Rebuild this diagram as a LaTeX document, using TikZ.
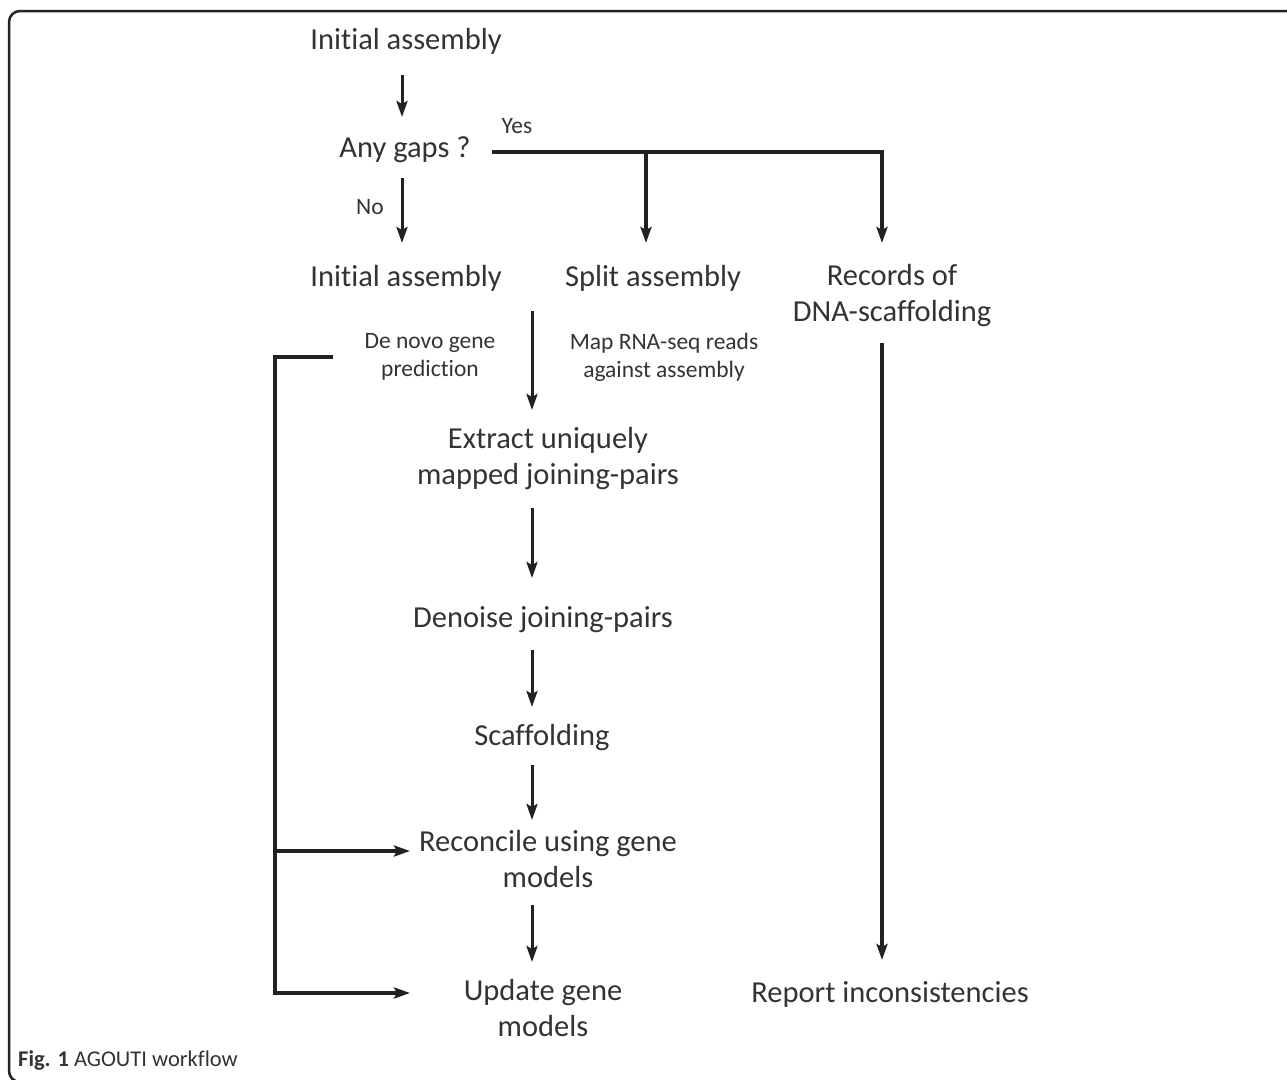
\documentclass[tikz,border=0pt]{standalone}
\usepackage{fontspec}
\setmainfont{Carlito}[Ligatures=NoCommon]
\usetikzlibrary{arrows.meta,calc}
\definecolor{txt}{HTML}{333333}
\definecolor{ln}{HTML}{222222}
\tikzset{
  lbl/.style={inner sep=0pt, text=txt, font=\fontsize{30.5}{36}\selectfont, align=center},
  sm/.style={inner sep=0pt, text=txt, font=\fontsize{23.5}{28}\selectfont, align=center},
  tip/.style={-{Stealth[length=16pt,width=11pt,inset=3pt]}},
  arr/.style={draw=ln, line width=3pt, tip},
  barr/.style={draw=ln, line width=3.5pt, tip},
  bline/.style={draw=ln, line width=4pt},
  frame/.style={draw=ln, line width=2.5pt, rounded corners=11pt}
}
\begin{document}
\begin{tikzpicture}[x=1pt,y=-1pt]
\useasboundingbox (0,0) rectangle (1287,1079);
\clip (0,0) rectangle (1287,1079);
\draw[frame] (9,11) rectangle (1320,1082);

\node[lbl] (init) at (406,41) {Initial assembly};
\node[lbl] (gaps) at (405,150) {Any gaps ?};
\node[sm] (yes) at (517,126) {Yes};
\node[sm] (no) at (370,207) {No};
\node[lbl] (init2) at (406,278) {Initial assembly};
\node[lbl] (split) at (653,278) {Split assembly};
\node[lbl] (rec) at (892,296) {Records of\\DNA-scaffolding};
\node[sm] (denovo) at (430,357) {De novo gene\\prediction};
\node[sm] (map) at (664,357) {Map RNA-seq reads\\against assembly};
\node[lbl] (extract) at (548,459) {Extract uniquely\\mapped joining-pairs};
\node[lbl] (denoise) at (543,620) {Denoise joining-pairs};
\node[lbl] (scaf) at (542,738) {Scaffolding};
\node[lbl] (recon) at (548,859) {Reconcile using gene\\models};
\node[lbl] (update) at (543,1008) {Update gene\\models};
\node[lbl] (report) at (890,994) {Report inconsistencies};
\node[anchor=west, inner sep=0pt, text=txt, font=\fontsize{22.5}{26}\selectfont] (cap) at (18,1060) {\textbf{Fig. 1} AGOUTI workflow};

% main chain
\draw[arr] ($(init.center)+(-4,34)$) -- ($(gaps.center)+(-3,-33)$);
\draw[arr] ($(gaps.center)+(-3,28)$) -- ($(init2.center)+(-4,-35)$);
\draw[barr] ($(gaps.center)+(87,2)$) -| ($(rec.center)+(-10,-53)$);
\coordinate (yj) at ($(split.center)+(-7,-126)$);
\draw[barr] (yj) -- ($(split.center)+(-7,-35)$);
\draw[arr] ($(init2.center)+(126,33)$) -- ($(extract.center)+(-16,-49)$);
\draw[arr] ($(extract.center)+(-16,49)$) -- ($(denoise.center)+(-11,-42)$);
\draw[arr] ($(denoise.center)+(-11,30)$) -- ($(scaf.center)+(-10,-31)$);
\draw[arr] ($(scaf.center)+(-10,27)$) -- ($(recon.center)+(-16,-39)$);
\draw[arr] ($(recon.center)+(-16,46)$) -- ($(update.center)+(-11,-46)$);
\draw[barr] ($(rec.center)+(-10,47)$) -- ($(report.center)+(-8,-34)$);

% gene-model bracket
\coordinate (bj) at (275,851);
\draw[bline, tip] ($(denovo.center)+(-97,0)$) -- (275,357) -- (275,993) -- ($(update.center)+(-133,-15)$);
\draw[bline, tip] (bj) -- ($(recon.center)+(-138,-8)$);
\end{tikzpicture}
\end{document}
